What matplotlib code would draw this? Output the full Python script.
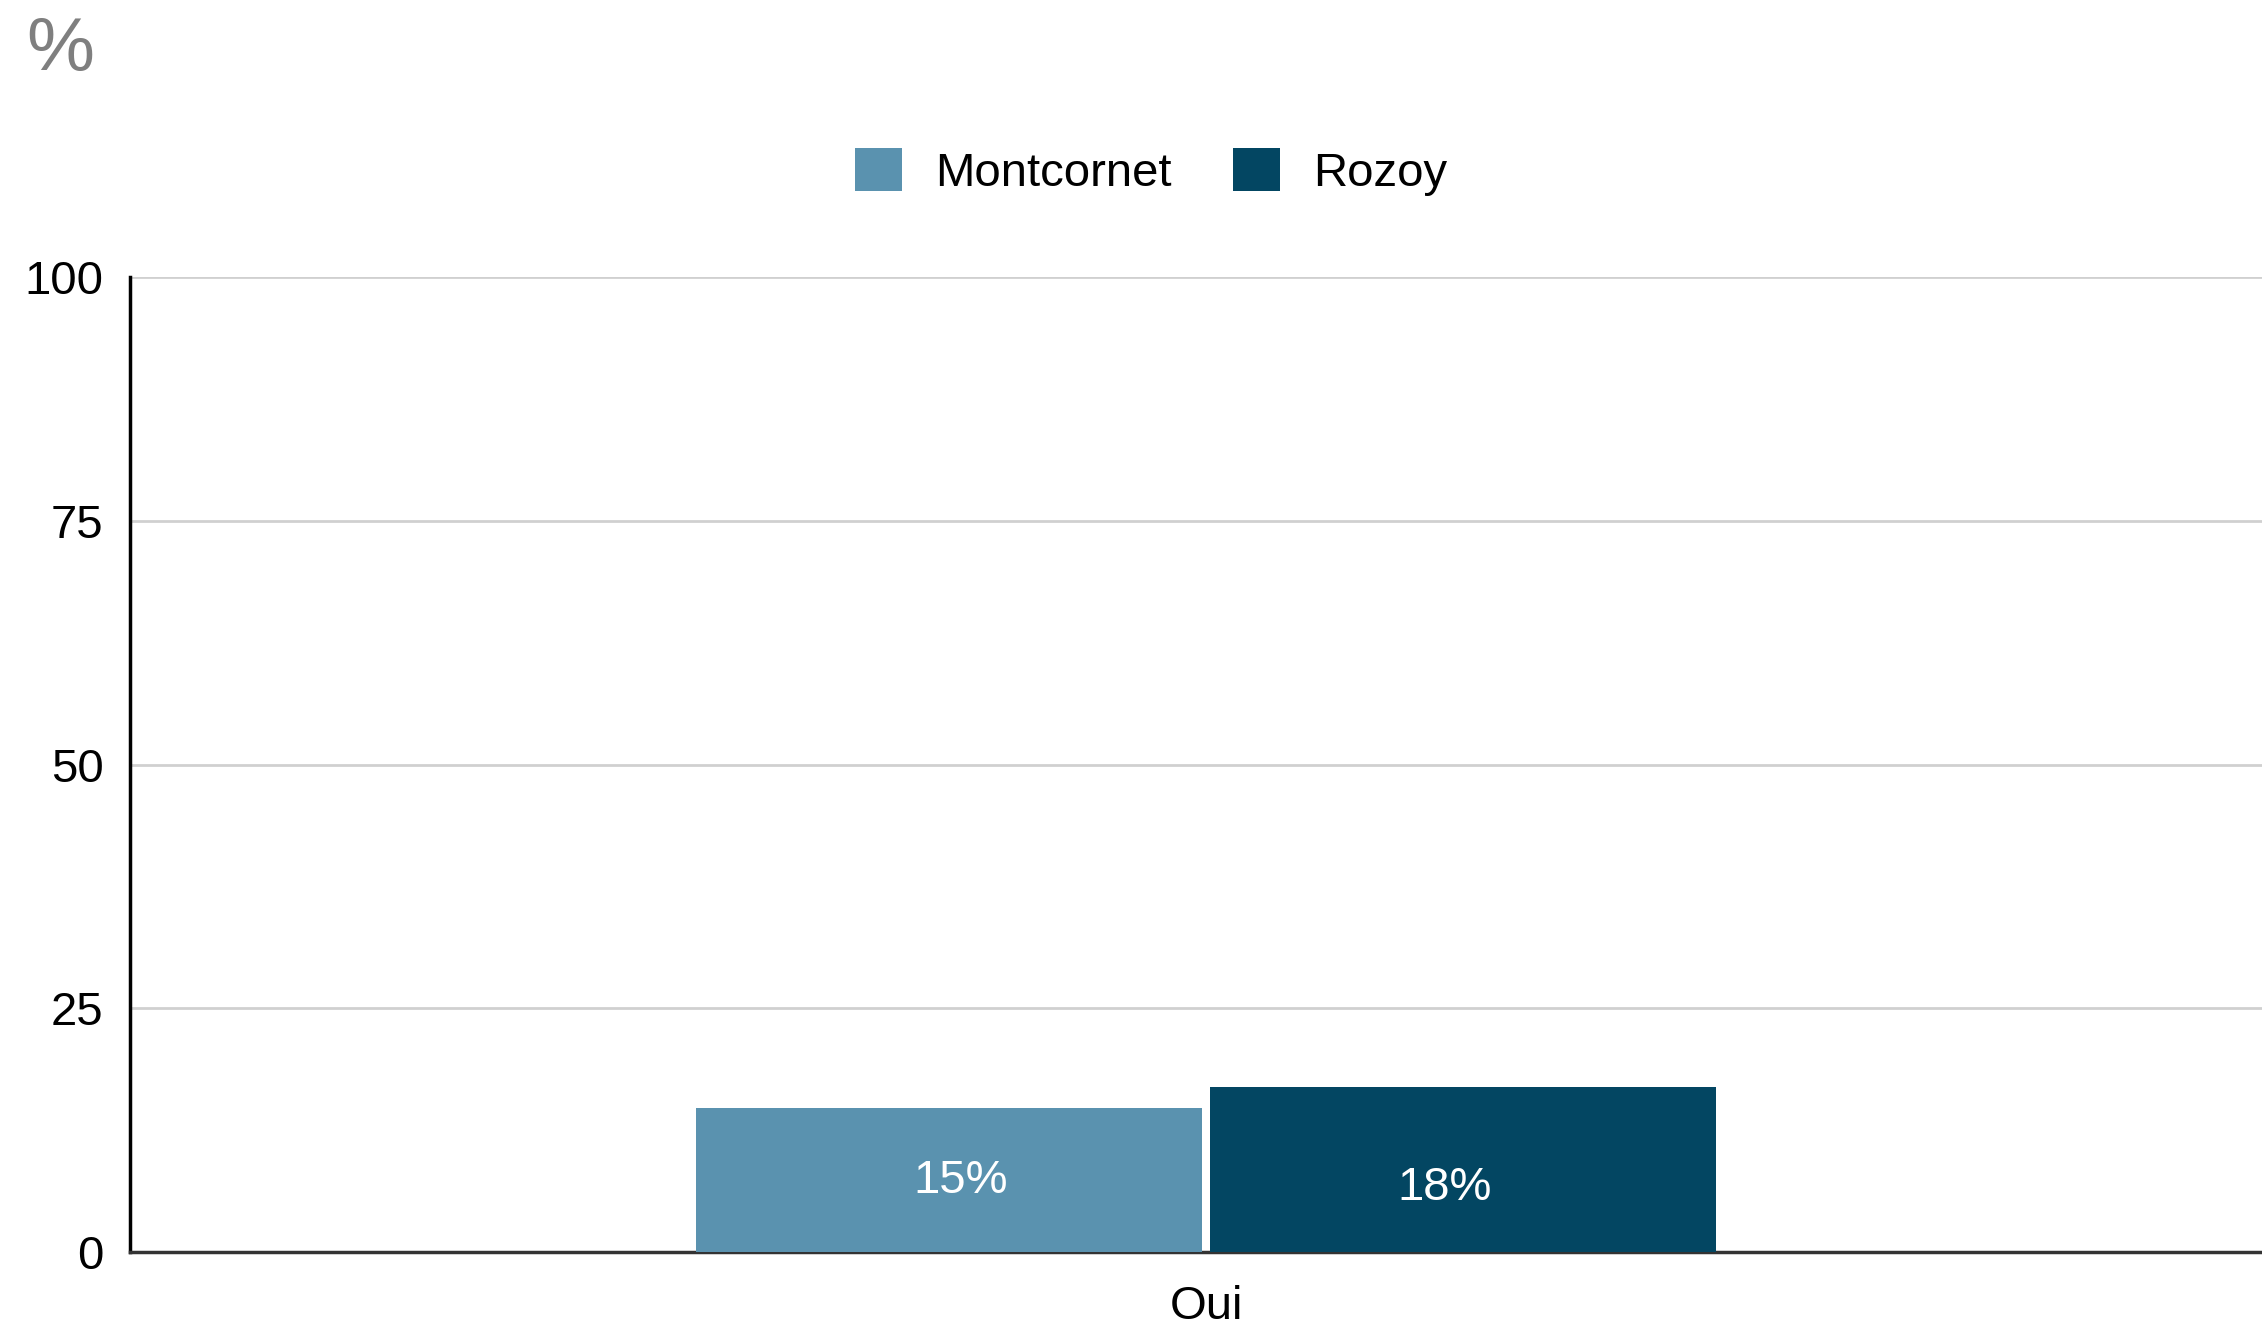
import numpy as np
import matplotlib
matplotlib.use('Agg')
import matplotlib.pyplot as plt
from matplotlib.patches import Patch

plt.rcParams['font.family'] = ['Liberation Sans', 'DejaVu Sans']
plt.rcParams['font.size'] = 34

categories = ['Oui']
series = ['Montcornet', 'Rozoy']
values = [14.8, 16.9]
labels = ['15%', '18%']
colors = ['#5a92af', '#034662']

fig = plt.figure(figsize=(22.62, 13.29), dpi=100)
ax = fig.add_axes([0.0575, 0.0579, 0.9425, 0.7337])

w = 0.4
gap = 0.007
x = np.arange(len(categories))
offsets = [-(w + gap) / 2, (w + gap) / 2]
# label placement as seen in the source chart (not exactly centred)
lab_dx = [0.0095, -0.015]
lab_y = [7.3, 6.6]
for i, name in enumerate(series):
    ax.bar(x + offsets[i], [values[i]], width=w, color=colors[i], zorder=3)
    ax.text(x[0] + offsets[i] + lab_dx[i], lab_y[i], labels[i], color='white',
            ha='center', va='center', fontsize=34, zorder=4)

ax.set_xlim(-0.8506, 0.8348)
ax.set_ylim(0, 100)
ax.set_yticks([0, 25, 50, 75, 100])
ax.set_xticks(x)
ax.set_xticklabels(categories)
ax.tick_params(axis='y', length=0, pad=19, labelsize=34)
ax.tick_params(axis='x', length=0, pad=24, labelsize=34)
ax.yaxis.grid(True, color='#d0d0d0', lw=2, zorder=0)
ax.set_axisbelow(True)
for s in ['top', 'right']:
    ax.spines[s].set_visible(False)
ax.spines['left'].set_linewidth(2.5)
ax.spines['left'].set_color('black')
ax.spines['bottom'].set_linewidth(2.5)
ax.spines['bottom'].set_color('#333333')

handles = [Patch(facecolor=c, label=n) for c, n in zip(colors, series)]
fig.legend(handles=handles, loc='center', bbox_to_anchor=(0.509, 0.8706),
           ncol=2, frameon=False, fontsize=34, handlelength=1.0, handleheight=1.0,
           handletextpad=0.7, columnspacing=1.3)

fig.text(0.0115, 0.989, '%', color='#7f7f7f', fontsize=55, ha='left', va='top')

plt.savefig('out.png', dpi=100)
